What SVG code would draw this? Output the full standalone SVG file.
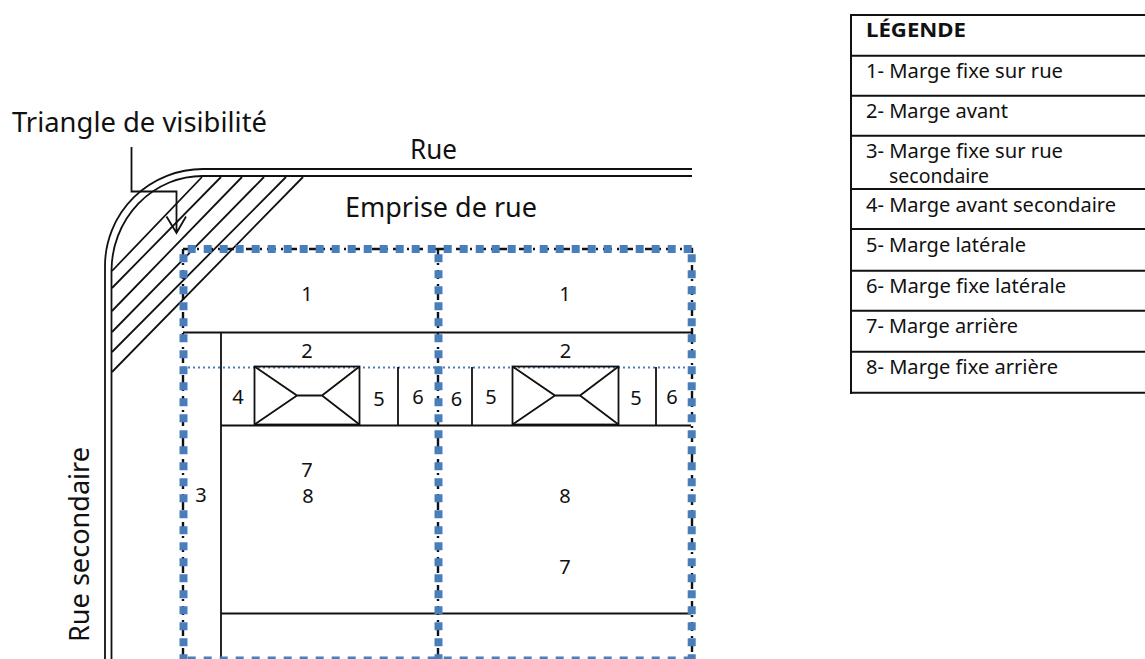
<svg xmlns="http://www.w3.org/2000/svg" width="1145" height="659" viewBox="0 0 1145 659">
<style>
text{font-family:"Noto Sans","DejaVu Sans",sans-serif;fill:#111}
.n{font-size:20px;text-anchor:middle}
.l{font-size:19.500px}
.b{font-size:27.500px}
.k{fill:none;stroke:#111;stroke-width:1.800}
.kd{fill:none;stroke:#111;stroke-width:2.400;stroke-dasharray:9 5 2 5}
.bd{fill:none;stroke:#4a7ebb;stroke-width:8;stroke-dasharray:8 8}
.bt{fill:none;stroke:#4a7ebb;stroke-width:2.200;stroke-dasharray:2 3}
</style>
<rect width="1145" height="659" fill="#fff"/>
<g id="road">
<path class="k" d="M692 169H203A98 97 0 0 0 105 266V659"/>
<path class="k" d="M692 176H203A91 95 0 0 0 111.500 271V659"/>
</g>
<g id="hatch">
<path class="k" d="M202 177L112 271M221 177L112 288M242 177L112 311M264 177L112 332M286 177L112 352M303 177L112 372"/>
</g>
<g id="lots">
<path class="bt" d="M183 367.500H691"/>
<path class="k" d="M183 332.500H691M221 332V659M221 425.500H691M221 613.500H691"/>
<path class="k" d="M398 367V425M472 367V425M656 367V425"/>
</g>
<g id="building-1">
<rect x="254.500" y="366.500" width="105" height="58" fill="#fff" class="k"/>
<path class="k" d="M254.500 366.500L297 395.500H322L359.500 366.500M254.500 424.500L297 395.500M322 395.500L359.500 424.500"/>
</g>
<g id="building-2">
<rect x="512.500" y="366.500" width="106" height="58" fill="#fff" class="k"/>
<path class="k" d="M512.500 366.500L555 395.500H580L618.500 366.500M512.500 424.500L555 395.500M580 395.500L618.500 424.500"/>
</g>
<g id="property-lines">
<path class="kd" d="M183 249H692V659M183 249V659M438 249V659"/>
<path class="bd" d="M187.700 249H692"/>
<path class="bd" d="M183.500 254.300V659"/>
<path class="bd" d="M438.500 254.300V659"/>
<path class="bd" d="M691.700 254.300V659"/>
<path class="bd" d="M187.700 660.500H692"/>
</g>
<g id="connectors">
<path class="k" d="M131.500 147V191.500H176.500V233M166.500 216.500L176.500 233L186 216.500"/>
</g>
<g id="labels">
<text class="b" x="12" y="132" textLength="255" lengthAdjust="spacingAndGlyphs">Triangle de visibilité</text>
<text class="b" x="410" y="159" textLength="47" lengthAdjust="spacingAndGlyphs">Rue</text>
<text class="b" x="345" y="217" textLength="192" lengthAdjust="spacingAndGlyphs">Emprise de rue</text>
<text class="b" transform="translate(89 642) rotate(-90)" textLength="195" lengthAdjust="spacingAndGlyphs">Rue secondaire</text>
<text class="n" x="307" y="301">1</text><text class="n" x="565" y="301">1</text>
<text class="n" x="307" y="358">2</text><text class="n" x="565.500" y="358">2</text>
<text class="n" x="238" y="404">4</text><text class="n" x="379" y="406">5</text>
<text class="n" x="418" y="404">6</text><text class="n" x="456.500" y="406">6</text>
<text class="n" x="491" y="404">5</text><text class="n" x="636" y="405">5</text>
<text class="n" x="672" y="404">6</text>
<text class="n" x="307" y="477">7</text><text class="n" x="308" y="503">8</text>
<text class="n" x="201" y="502">3</text>
<text class="n" x="565" y="503">8</text><text class="n" x="565" y="574">7</text>
</g>
<g id="legend">
<path d="M851 15H1145M851 55.700H1145M851 95.700H1145M851 135.700H1145M851 189H1145M851 229H1145M851 270.700H1145M851 310.700H1145M851 351.700H1145M851 392.700H1145M851 14V394" fill="none" stroke="#111" stroke-width="2"/>
<text class="l" x="866" y="37" style="font-weight:700" textLength="100" lengthAdjust="spacingAndGlyphs">LÉGENDE</text>
<text class="l" x="866" y="78" textLength="197" lengthAdjust="spacingAndGlyphs">1- Marge fixe sur rue</text>
<text class="l" x="866" y="118" textLength="142" lengthAdjust="spacingAndGlyphs">2- Marge avant</text>
<text class="l" x="866" y="158" textLength="197" lengthAdjust="spacingAndGlyphs">3- Marge fixe sur rue</text>
<text class="l" x="889" y="183" textLength="100" lengthAdjust="spacingAndGlyphs">secondaire</text>
<text class="l" x="866" y="212" textLength="250" lengthAdjust="spacingAndGlyphs">4- Marge avant secondaire</text>
<text class="l" x="866" y="252" textLength="160" lengthAdjust="spacingAndGlyphs">5- Marge latérale</text>
<text class="l" x="866" y="293" textLength="200" lengthAdjust="spacingAndGlyphs">6- Marge fixe latérale</text>
<text class="l" x="866" y="333" textLength="152" lengthAdjust="spacingAndGlyphs">7- Marge arrière</text>
<text class="l" x="866" y="374" textLength="192" lengthAdjust="spacingAndGlyphs">8- Marge fixe arrière</text>
</g>
</svg>
